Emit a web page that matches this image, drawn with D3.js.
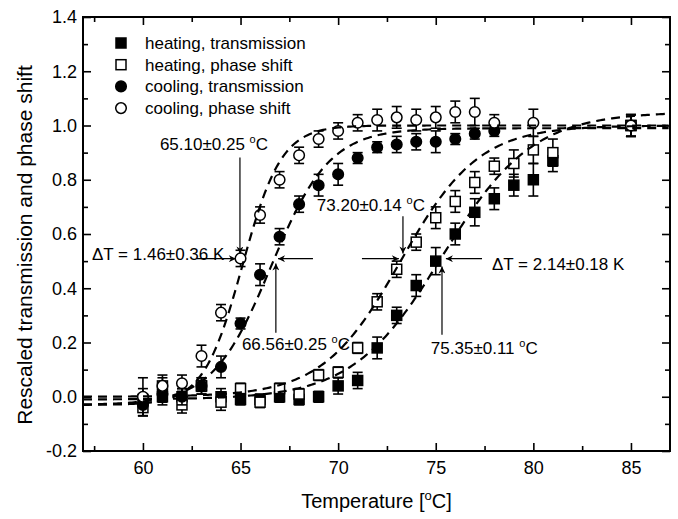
<!DOCTYPE html>
<html>
<head>
<meta charset="utf-8">
<script src="https://cdn.jsdelivr.net/npm/d3@7.9.0/dist/d3.min.js"></script>
<style>
  body { margin: 0; background: #fff; }
  svg { display: block; font-family: "Liberation Sans", Arial, Helvetica, sans-serif; }
</style>
</head>
<body>
<div id="chart"></div>
<script>
// ---- data ----
const heatTransT = [60, 61, 62, 63, 64, 65, 66, 67, 68, 69, 70, 71, 72, 73, 74, 75, 76, 77, 78, 79, 80, 81, 85];
const heatTransV = [-0.01, 0.0, 0.0, 0.04, 0.0, -0.01, -0.01, 0.0, -0.01, 0.0, 0.04, 0.06, 0.18, 0.30, 0.41, 0.50, 0.60, 0.68, 0.73, 0.78, 0.80, 0.87, 1.0];
const heatTransE = [0.04, 0.03, 0.03, 0.03, 0.03, 0.02, 0.02, 0.02, 0.02, 0.02, 0.03, 0.03, 0.04, 0.03, 0.04, 0.05, 0.04, 0.05, 0.04, 0.04, 0.06, 0.04, 0.04];

const heatPhaseT = [60, 61, 62, 63, 64, 65, 66, 67, 68, 69, 70, 71, 72, 73, 74, 75, 76, 77, 78, 79, 80, 81, 85];
const heatPhaseV = [-0.04, 0.04, -0.03, 0.04, -0.02, 0.03, -0.02, 0.03, 0.01, 0.08, 0.09, 0.18, 0.35, 0.47, 0.57, 0.66, 0.72, 0.79, 0.85, 0.86, 0.91, 0.90, 1.0];
const heatPhaseE = [0.03, 0.03, 0.03, 0.02, 0.03, 0.02, 0.02, 0.02, 0.02, 0.02, 0.02, 0.02, 0.03, 0.03, 0.03, 0.04, 0.04, 0.04, 0.03, 0.05, 0.05, 0.05, 0.04];

const coolTransT = [60, 61, 62, 63, 64, 65, 66, 67, 68, 69, 70, 71, 72, 73, 74, 75, 76, 77, 78, 85];
const coolTransV = [-0.03, 0.01, 0.0, 0.04, 0.11, 0.27, 0.45, 0.59, 0.71, 0.78, 0.82, 0.88, 0.92, 0.93, 0.94, 0.94, 0.95, 0.97, 0.98, 1.0];
const coolTransE = [0.04, 0.03, 0.03, 0.03, 0.04, 0.02, 0.04, 0.03, 0.03, 0.04, 0.04, 0.02, 0.02, 0.03, 0.03, 0.04, 0.02, 0.02, 0.02, 0.04];

const coolPhaseT = [60, 61, 62, 63, 64, 65, 66, 67, 68, 69, 70, 71, 72, 73, 74, 75, 76, 77, 78, 80, 85];
const coolPhaseV = [0.0, 0.04, 0.05, 0.15, 0.31, 0.51, 0.67, 0.80, 0.89, 0.95, 0.98, 1.01, 1.02, 1.03, 1.02, 1.03, 1.05, 1.05, 1.01, 1.01, 1.0];
const coolPhaseE = [0.07, 0.04, 0.03, 0.04, 0.03, 0.03, 0.03, 0.03, 0.03, 0.03, 0.03, 0.03, 0.04, 0.04, 0.04, 0.04, 0.04, 0.05, 0.03, 0.05, 0.04];

// Boltzmann fit parameters (centre, width, low, high) per series
const fitCenters = [75.35, 73.20, 66.56, 65.10];
const fitWidths = [2.3, 2.0, 1.5, 1.0];
const fitLow = [-0.01, 0.0, -0.03, -0.03];
const fitHigh = [1.05, 1.0, 0.99, 1.0];

const legendLabels = ["heating, transmission", "heating, phase shift", "cooling, transmission", "cooling, phase shift"];
const xTicks = [60, 65, 70, 75, 80, 85];
const yTicks = [-0.2, 0.0, 0.2, 0.4, 0.6, 0.8, 1.0, 1.2, 1.4];

const W = 678, H = 519;
const margin = { top: 17, right: 8, bottom: 68, left: 83 };
const width = W - margin.left - margin.right;
const height = H - margin.top - margin.bottom;

const svg = d3.select("#chart").append("svg")
  .attr("width", W).attr("height", H);

const defs = svg.append("defs");
defs.append("marker")
  .attr("id", "arrow")
  .attr("viewBox", "0 0 10 10")
  .attr("refX", 10).attr("refY", 5)
  .attr("markerWidth", 9).attr("markerHeight", 7)
  .attr("markerUnits", "userSpaceOnUse")
  .attr("orient", "auto")
  .append("path").attr("d", "M0,0 L10,5 L0,10 L3,5 Z").attr("fill", "#000");

const g = svg.append("g").attr("transform", `translate(${margin.left},${margin.top})`);

const x = d3.scaleLinear().domain([56.93, 87.0]).range([0, width]);
const y = d3.scaleLinear().domain([-0.2, 1.4]).range([height, 0]);

const fmtY = (d) => d3.format(".1f")(d).replace("−", "-");

// axes: ticks point inward
function addAxis(axis, transform, cls) {
  const a = g.append("g").attr("class", cls).attr("transform", transform).call(axis);
  a.select(".domain").remove();
  a.selectAll("line").attr("stroke", "#000").attr("stroke-width", 1.6);
  a.selectAll("text").attr("fill", "#000").style("font-size", "18px")
    .style("font-family", '"Liberation Sans", Arial, sans-serif');
  return a;
}
const xMinor = d3.range(57.5, 87, 5);
const yMinor = d3.range(-0.1, 1.4, 0.2);

addAxis(d3.axisBottom(x).tickValues(xTicks).tickSize(-8).tickPadding(10).tickFormat(d3.format("d")), `translate(0,${height})`, "xb");
addAxis(d3.axisBottom(x).tickValues(xMinor).tickSize(-5).tickFormat(""), `translate(0,${height})`, "xbm");
addAxis(d3.axisTop(x).tickValues(xTicks).tickSize(-8).tickFormat(""), "translate(0,0)", "xt");
addAxis(d3.axisTop(x).tickValues(xMinor).tickSize(-5).tickFormat(""), "translate(0,0)", "xtm");
addAxis(d3.axisLeft(y).tickValues(yTicks).tickSize(-8).tickPadding(6).tickFormat(fmtY), "translate(0,0)", "yl");
addAxis(d3.axisLeft(y).tickValues(yMinor).tickSize(-5).tickFormat(""), "translate(0,0)", "ylm");
addAxis(d3.axisRight(y).tickValues(yTicks).tickSize(-8).tickFormat(""), `translate(${width},0)`, "yr");
addAxis(d3.axisRight(y).tickValues(yMinor).tickSize(-5).tickFormat(""), `translate(${width},0)`, "yrm");

g.append("rect").attr("width", width).attr("height", height)
  .attr("fill", "none").attr("stroke", "#000").attr("stroke-width", 2);

// axis titles
svg.append("text")
  .attr("x", margin.left + width / 2).attr("y", 508)
  .attr("text-anchor", "middle").style("font-size", "20px")
  .call((t) => {
    t.append("tspan").text("Temperature [");
    t.append("tspan").attr("dy", -8).style("font-size", "13px").text("o");
    t.append("tspan").attr("dy", 8).text("C]");
  });

svg.append("text")
  .attr("transform", "translate(32,245) rotate(-90)")
  .attr("text-anchor", "middle").style("font-size", "21px")
  .text("Rescaled transmission and phase shift");

// series
const series = [
  { T: heatTransT, V: heatTransV, E: heatTransE, shape: "square", filled: true },
  { T: heatPhaseT, V: heatPhaseV, E: heatPhaseE, shape: "square", filled: false },
  { T: coolTransT, V: coolTransV, E: coolTransE, shape: "circle", filled: true },
  { T: coolPhaseT, V: coolPhaseV, E: coolPhaseE, shape: "circle", filled: false }
];

function drawMarker(sel, shape, filled, cx, cy) {
  if (shape === "square") {
    sel.append("rect")
      .attr("x", cx - 5).attr("y", cy - 5).attr("width", 10).attr("height", 10)
      .attr("fill", filled ? "#000" : "#fff").attr("stroke", "#000").attr("stroke-width", 1.5);
  } else {
    sel.append("circle")
      .attr("cx", cx).attr("cy", cy).attr("r", 5.3)
      .attr("fill", filled ? "#000" : "#fff").attr("stroke", "#000").attr("stroke-width", 1.5);
  }
}

const plot = g.append("g");
series.forEach((s) => {
  const pts = s.T.map((t, i) => ({ t, v: s.V[i], e: s.E[i] }));
  const eb = plot.append("g").attr("stroke", "#000").attr("stroke-width", 1.6);
  pts.forEach((p) => {
    const cx = x(p.t), y0 = y(p.v - p.e), y1 = y(p.v + p.e);
    eb.append("line").attr("x1", cx).attr("x2", cx).attr("y1", y0).attr("y2", y1);
    eb.append("line").attr("x1", cx - 5).attr("x2", cx + 5).attr("y1", y0).attr("y2", y0);
    eb.append("line").attr("x1", cx - 5).attr("x2", cx + 5).attr("y1", y1).attr("y2", y1);
  });
  const mk = plot.append("g");
  pts.forEach((p) => drawMarker(mk, s.shape, s.filled, x(p.t), y(p.v)));
});

// dashed Boltzmann fits
const tGrid = d3.range(56.93, 87.01, 0.1);
const line = d3.line().x((d) => x(d[0])).y((d) => y(d[1]));
fitCenters.forEach((c, i) => {
  const pts = tGrid.map((t) => [t, fitHigh[i] + (fitLow[i] - fitHigh[i]) / (1 + Math.exp((t - c) / fitWidths[i]))]);
  g.append("path").datum(pts).attr("d", line)
    .attr("fill", "none").attr("stroke", "#000").attr("stroke-width", 2.2)
    .attr("stroke-dasharray", "9,6");
});

// legend
const legend = g.append("g");
legendLabels.forEach((lab, i) => {
  const ly = 43 - margin.top + i * 21.7;
  const s = series[i];
  drawMarker(legend, s.shape, s.filled, 121 - margin.left, ly);
  legend.append("text").attr("x", 145 - margin.left).attr("y", ly + 6)
    .style("font-size", "17px").text(lab);
});

// annotations
function label(t, v, parts) {
  const tx = g.append("text").attr("x", x(t)).attr("y", y(v)).style("font-size", "17px");
  tx.append("tspan").text(parts[0] + " ");
  if (parts.length > 1) {
    tx.append("tspan").attr("dy", -7).style("font-size", "11px").text("o");
    tx.append("tspan").attr("dy", 7).text("C");
  }
}
function arrow(t0, v0, t1, v1) {
  g.append("line")
    .attr("x1", x(t0)).attr("y1", y(v0)).attr("x2", x(t1)).attr("y2", y(v1))
    .attr("stroke", "#000").attr("stroke-width", 1.2).attr("marker-end", "url(#arrow)");
}
const vArrow = 0.509;

label(60.87, 0.908, ["65.10±0.25", "C"]);
arrow(64.97, 0.882, 64.97, 0.528);
g.append("text").attr("x", x(57.39)).attr("y", y(0.505)).style("font-size", "17px").text("ΔT = 1.46±0.36 K");
arrow(62.77, vArrow, 64.76, vArrow);
arrow(68.71, vArrow, 66.92, vArrow);
label(65.07, 0.172, ["66.56±0.25", "C"]);
arrow(66.81, 0.236, 66.81, 0.491);

label(68.91, 0.683, ["73.20±0.14", "C"]);
arrow(73.32, 0.665, 73.32, 0.528);
arrow(71.22, vArrow, 73.11, vArrow);
arrow(77.37, vArrow, 75.52, vArrow);
g.append("text").attr("x", x(77.88)).attr("y", y(0.468)).style("font-size", "17px").text("ΔT = 2.14±0.18 K");
label(74.75, 0.159, ["75.35±0.11", "C"]);
arrow(75.32, 0.229, 75.32, 0.48);
</script>
</body>
</html>
